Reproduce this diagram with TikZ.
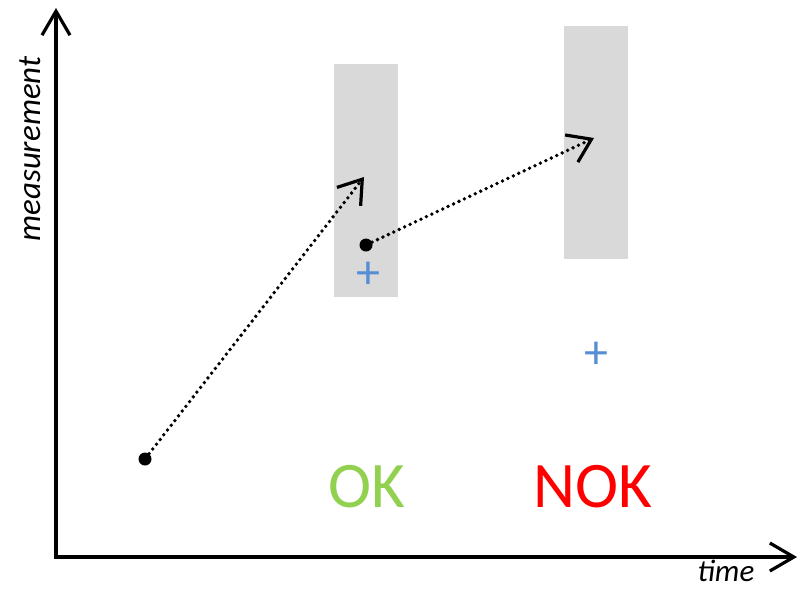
\documentclass[tikz,border=0pt]{standalone}
\usepackage{fontspec}
\setmainfont{Carlito}
\usetikzlibrary{arrows.meta}
\definecolor{boxgray}{HTML}{D9D9D9}
\definecolor{okgreen}{HTML}{92D050}
\definecolor{nokred}{HTML}{FF0000}
\definecolor{plusblue}{HTML}{558ED5}
\tikzset{
  axis/.style={line width=3.2pt, -{Straight Barb[length=24pt,width=28pt,line width=3.2pt]}},
  dotarrow/.style={line width=3.8pt, dash pattern=on 0pt off 6pt, line cap=round,
    -{Straight Barb[length=22pt,width=30pt,line width=3.2pt]}},
  band/.style={fill=boxgray, draw=none},
  pt/.style={circle, fill=black, inner sep=0pt, minimum size=13pt},
  plus/.style={text=plusblue, font=\fontsize{48}{48}\selectfont, inner sep=0pt},
  verdict/.style={font=\fontsize{65}{65}\selectfont, inner sep=0pt},
  axlabel/.style={font=\itshape\fontsize{31}{31}\selectfont, inner sep=0pt}
}
\begin{document}
\begin{tikzpicture}[x=1pt,y=-1pt]
\useasboundingbox (0,0) rectangle (802,590);
% bands
\fill[band] (334,64) rectangle (398,297);
\fill[band] (564,26) rectangle (628,259);
% axes
\coordinate (O) at (56,557);
\coordinate (ytop) at (56,8);
\coordinate (xend) at (797,557);
\draw[axis] (O) -- (ytop);
\draw[axis] ([xshift=-1.6pt]O) -- (xend);
\node[axlabel, rotate=90, font=\itshape\fontsize{33}{33}\selectfont] (ylab) at (30,149) {measurement};
\node[axlabel, anchor=base] (xlab) at (726,581) {time};
% points
\node[pt] (p1) at (145,459) {};
\node[pt] (p2) at (366,245) {};
\coordinate (t1) at (364,177);
\coordinate (t2) at (594,138);
\draw[dotarrow] (p1) -- (t1);
\draw[dotarrow] (p2) -- (t2);
% plus markers
\node[plus] (m1) at (368,275) {+};
\node[plus] (m2) at (596,355) {+};
% verdicts
\node[verdict, text=okgreen] (ok) at (367,487) {OK};
\node[verdict, text=nokred] (nok) at (593,487) {NOK};
\end{tikzpicture}
\end{document}
